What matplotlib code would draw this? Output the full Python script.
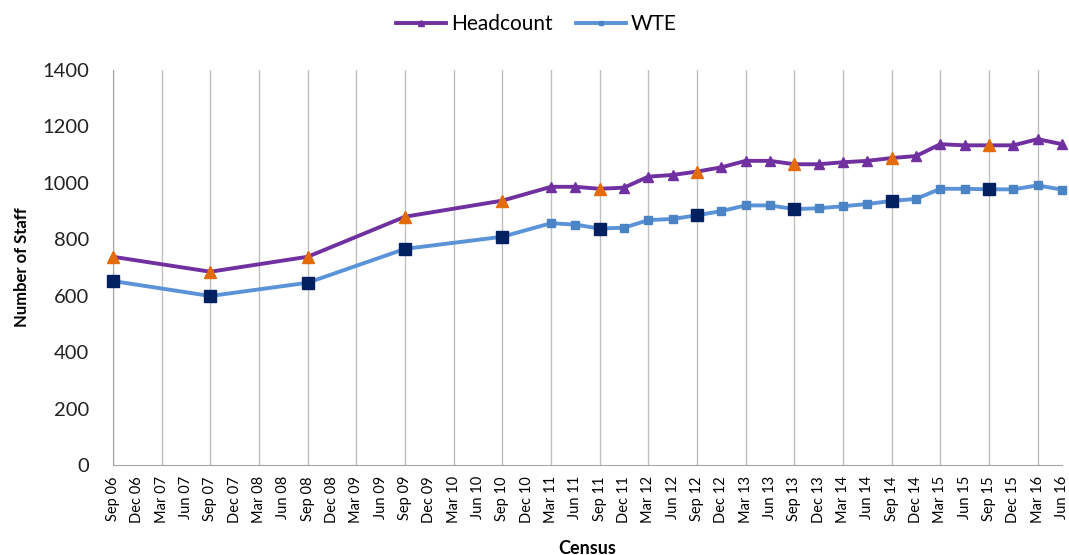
import matplotlib.pyplot as plt
import numpy as np

plt.rcParams['font.family'] = ['Lato', 'DejaVu Sans']

# quarterly census labels, Sep 06 .. Jun 16
labels = ["Sep 06", "Dec 06", "Mar 07", "Jun 07", "Sep 07", "Dec 07",
          "Mar 08", "Jun 08", "Sep 08", "Dec 08", "Mar 09", "Jun 09",
          "Sep 09", "Dec 09", "Mar 10", "Jun 10", "Sep 10", "Dec 10",
          "Mar 11", "Jun 11", "Sep 11", "Dec 11", "Mar 12", "Jun 12",
          "Sep 12", "Dec 12", "Mar 13", "Jun 13", "Sep 13", "Dec 13",
          "Mar 14", "Jun 14", "Sep 14", "Dec 14", "Mar 15", "Jun 15",
          "Sep 15", "Dec 15", "Mar 16", "Jun 16"]

# census points with data
census = ["Sep 06", "Sep 07", "Sep 08", "Sep 09", "Sep 10",
          "Mar 11", "Jun 11", "Sep 11", "Dec 11",
          "Mar 12", "Jun 12", "Sep 12", "Dec 12",
          "Mar 13", "Jun 13", "Sep 13", "Dec 13",
          "Mar 14", "Jun 14", "Sep 14", "Dec 14",
          "Mar 15", "Jun 15", "Sep 15", "Dec 15",
          "Mar 16", "Jun 16"]
headcount = [738, 685, 738, 880, 937,
             986, 986, 979, 983,
             1022, 1028, 1040, 1055,
             1078, 1078, 1066, 1066,
             1073, 1078, 1088, 1095,
             1137, 1133, 1133, 1133,
             1155, 1137]
wte = [652, 599, 646, 766, 809,
       857, 852, 838, 841,
       868, 872, 885, 900,
       920, 920, 907, 910,
       917, 925, 936, 943,
       979, 979, 977, 977,
       991, 976]

x = np.array([labels.index(c) for c in census])
hc = np.array(headcount)
wt = np.array(wte)
sep = np.array([c.startswith("Sep") for c in census])

fig = plt.figure(figsize=(10.69, 5.55), dpi=100)
ax = fig.add_axes([113/1069, 1 - 465/555, (1062-113)/1069, (465-70)/555])

purple = "#7030A0"
blue = "#5B93D8"
orange = "#E36C09"
navy = "#002060"

ax.plot(x, hc, color=purple, lw=2.8, marker="^", ms=6.5, mfc=purple, mec=purple,
        label="Headcount", clip_on=False, zorder=3)
ax.plot(x, wt, color=blue, lw=2.8, marker="s", ms=5.5, mfc="#4A84C4", mec="#4A84C4",
        label="WTE", clip_on=False, zorder=3)
ax.plot(x[sep], hc[sep], ls="none", marker="^", ms=9, color=orange,
        clip_on=False, zorder=4)
ax.plot(x[sep], wt[sep], ls="none", marker="s", ms=8, color=navy,
        clip_on=False, zorder=4)

ax.set_xlim(0, 39)
ax.set_ylim(0, 1400)
ax.set_yticks(range(0, 1401, 200))
ax.set_xticks(range(40))
ax.set_xticklabels(labels, rotation=90, fontsize=10.5)
ax.tick_params(axis="x", length=0, pad=8)
ax.tick_params(axis="y", length=0, labelsize=14.5, pad=17, colors="#222222")

for gx in range(0, 40, 2):
    ax.axvline(gx, color="#BFBFBF", lw=1, zorder=1)

for s in ["top", "right"]:
    ax.spines[s].set_visible(False)
ax.spines["left"].set_color("#A6A6A6")
ax.spines["bottom"].set_color("#A6A6A6")

ax.set_ylabel("Number of Staff", fontsize=12, fontweight="bold")
ax.yaxis.set_label_coords(-0.0875, 0.5)
ax.set_xlabel("Census", fontsize=13, fontweight="bold")
ax.xaxis.set_label_coords(0.5, -0.19)

ax.legend(loc="center", bbox_to_anchor=(0.446, 1.1165), ncol=2, frameon=False,
          fontsize=15, handlelength=2.4, handletextpad=0.25, columnspacing=1.1,
          markerscale=0.6)

fig.savefig("out.png", dpi=100)
